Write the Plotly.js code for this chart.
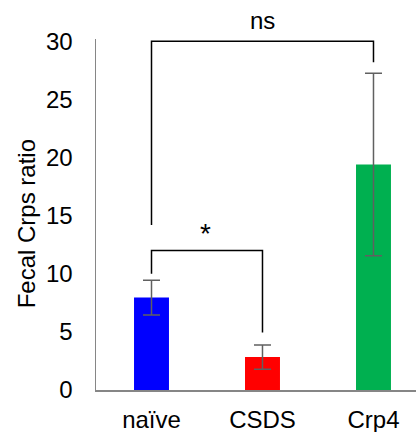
<!DOCTYPE html>
<html>
<head>
<meta charset="utf-8">
<script src="https://cdn.plot.ly/plotly-3.0.1.min.js"></script>
<style>
  html, body { margin: 0; padding: 0; background: #fff; }
  #chart { width: 416px; height: 432px; }
</style>
</head>
<body>
<div id="chart"></div>
<script>
// Group means and error (±) of the fecal Crps ratio
const groups = ['naïve', 'CSDS', 'Crp4'];
const means = [7.95, 2.83, 19.4];
const errors = [1.5, 1.05, 7.85];
const barColors = ['#0000FF', '#FF0000', '#00B050'];

// Significance brackets: leg, top, top, leg
const nsBracketX = ['naïve', 'naïve', 'Crp4', 'Crp4'];
const nsBracketY = [14.2, 30, 30, 28.2];
const starBracketX = ['naïve', 'naïve', 'CSDS', 'CSDS'];
const starBracketY = [10, 12, 12, 4.95];

const yTicks = [0, 5, 10, 15, 20, 25, 30];

const font = 'Liberation Sans, Arial, sans-serif';

const traces = [
  {
    type: 'bar',
    x: groups,
    y: means,
    width: 0.315,
    marker: { color: barColors, line: { width: 0 } },
    error_y: {
      type: 'data',
      array: errors,
      visible: true,
      color: '#606060',
      thickness: 1.5,
      width: 8.5
    },
    hoverinfo: 'none'
  },
  {
    type: 'scatter',
    mode: 'lines',
    x: nsBracketX,
    y: nsBracketY,
    line: { color: '#000', width: 1.5 },
    hoverinfo: 'none'
  },
  {
    type: 'scatter',
    mode: 'lines',
    x: starBracketX,
    y: starBracketY,
    line: { color: '#000', width: 1.5 },
    hoverinfo: 'none'
  }
];

const layout = {
  width: 416,
  height: 432,
  margin: { l: 96, r: 0, t: 39, b: 42 },
  paper_bgcolor: '#fff',
  plot_bgcolor: '#fff',
  showlegend: false,
  font: { family: font, size: 24, color: '#000' },
  xaxis: {
    type: 'category',
    range: [-0.5, 2.383],
    showline: true,
    linecolor: '#868686',
    linewidth: 1.5,
    showgrid: false,
    zeroline: false,
    ticks: '',
    ticklabelstandoff: 8,
    tickfont: { family: font, size: 24, color: '#000' }
  },
  yaxis: {
    range: [0, 30.2],
    tickvals: yTicks,
    showline: true,
    linecolor: '#868686',
    linewidth: 1.5,
    showgrid: false,
    zeroline: false,
    ticks: '',
    ticklabelstandoff: 17,
    tickfont: { family: font, size: 24, color: '#000' }
  },
  annotations: [
    {
      // y-axis title
      x: -0.217, y: 14.3, xref: 'paper', yref: 'y',
      xanchor: 'center', yanchor: 'middle',
      text: 'Fecal Crps ratio', textangle: -90, showarrow: false,
      font: { family: font, size: 24, color: '#000' }
    },
    {
      x: 'CSDS', y: 1.054, xref: 'x', yref: 'paper',
      xanchor: 'center', yanchor: 'middle',
      text: 'ns', showarrow: false,
      font: { family: font, size: 24, color: '#000' }
    },
    {
      x: 0.49, y: 13.45, xref: 'x', yref: 'y',
      xanchor: 'center', yanchor: 'middle',
      text: '*', showarrow: false,
      font: { family: font, size: 28, color: '#000' }
    }
  ]
};

Plotly.newPlot('chart', traces, layout, { displayModeBar: false, staticPlot: true });
</script>
</body>
</html>
